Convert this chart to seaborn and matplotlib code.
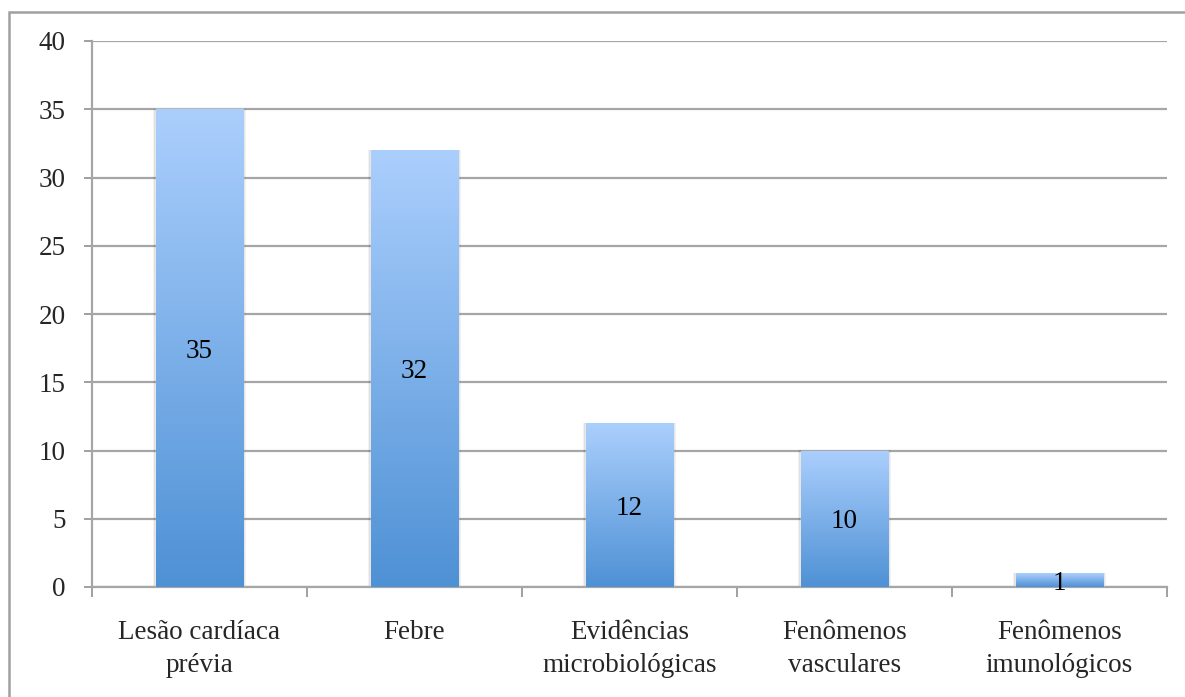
import numpy as np
import pandas as pd
import matplotlib
matplotlib.use("Agg")
import matplotlib.pyplot as plt
import seaborn as sns
from matplotlib.colors import LinearSegmentedColormap
from matplotlib.patches import Rectangle

categories = ["Lesão cardíaca\nprévia", "Febre", "Evidências\nmicrobiológicas",
              "Fenômenos\nvasculares", "Fenômenos\nimunológicos"]
values = [35, 32, 12, 10, 1]
yticks = [0, 5, 10, 15, 20, 25, 30, 35, 40]

sns.set_theme(style="white")
plt.rcParams['font.family'] = ['Liberation Serif', 'DejaVu Serif']

FS = 19.5
W, H = 1185, 697
fig = plt.figure(figsize=(W / 100, H / 100), dpi=100)
ax = fig.add_axes([92 / W, 1 - 587 / H, 1075 / W, (587 - 41) / H])

df = pd.DataFrame({"cat": categories, "val": values})
sns.barplot(data=df, x="cat", y="val", ax=ax, width=0.405, color="#6fa6e6", zorder=3)

cmap = LinearSegmentedColormap.from_list("g", ["#4e91d5", "#abcffd"])
grad = np.linspace(0, 1, 256).reshape(-1, 1)
for p in list(ax.patches):
    x0, y0 = p.get_x(), p.get_y()
    w, h = p.get_width(), p.get_height()
    for k, a in [(0.012, 0.05), (0.007, 0.07)]:
        sh = Rectangle((x0 - k, y0), w + 2 * k, h + k * 4, facecolor="black",
                       alpha=a, edgecolor="none", zorder=2.5)
        ax.add_patch(sh)
    im = ax.imshow(grad, extent=[x0, x0 + w, y0, y0 + h], origin="lower",
                   cmap=cmap, aspect="auto", zorder=3.5)
    im.set_clip_path(p)
    ax.text(x0 + w / 2, y0 + h / 2, f"{int(h)}", ha="center", va="center_baseline",
            fontsize=FS, color="black", zorder=5)

ax.set_xlim(-0.5, len(categories) - 0.5)
ax.set_ylim(0, 40)
ax.set_yticks(yticks)
ax.set_yticklabels([str(t) for t in yticks], fontsize=FS)
ax.set_xticks(np.arange(len(categories) + 1) - 0.5, minor=False)
ax.set_xticklabels([""] * (len(categories) + 1))
ax.set_xticks(np.arange(len(categories)), minor=True)
ax.set_xticklabels(categories, minor=True, fontsize=FS, linespacing=1.4)
ax.tick_params(axis="x", which="major", length=7, width=1.3, color="#999999",
               direction="out", bottom=True)
ax.tick_params(axis="x", which="minor", length=0, pad=24)
ax.tick_params(axis="y", which="major", length=6, width=1.3, color="#999999",
               direction="out", left=True, pad=13)
ax.set_xlabel("")
ax.set_ylabel("")
ax.yaxis.grid(True, color="#a6a6a6", linewidth=1.6, zorder=0)
ax.set_axisbelow(True)
for s in ["top", "right"]:
    ax.spines[s].set_visible(False)
for s in ["left", "bottom"]:
    ax.spines[s].set_color("#a6a6a6")
    ax.spines[s].set_linewidth(1.6)

border = Rectangle((9 / W, -0.1), 1.2, 1 - 12 / H + 0.1, transform=fig.transFigure,
                   fill=False, edgecolor="#a0a0a0", linewidth=1.8)
fig.patches.append(border)

fig.savefig("out.png", dpi=100, facecolor="white")
